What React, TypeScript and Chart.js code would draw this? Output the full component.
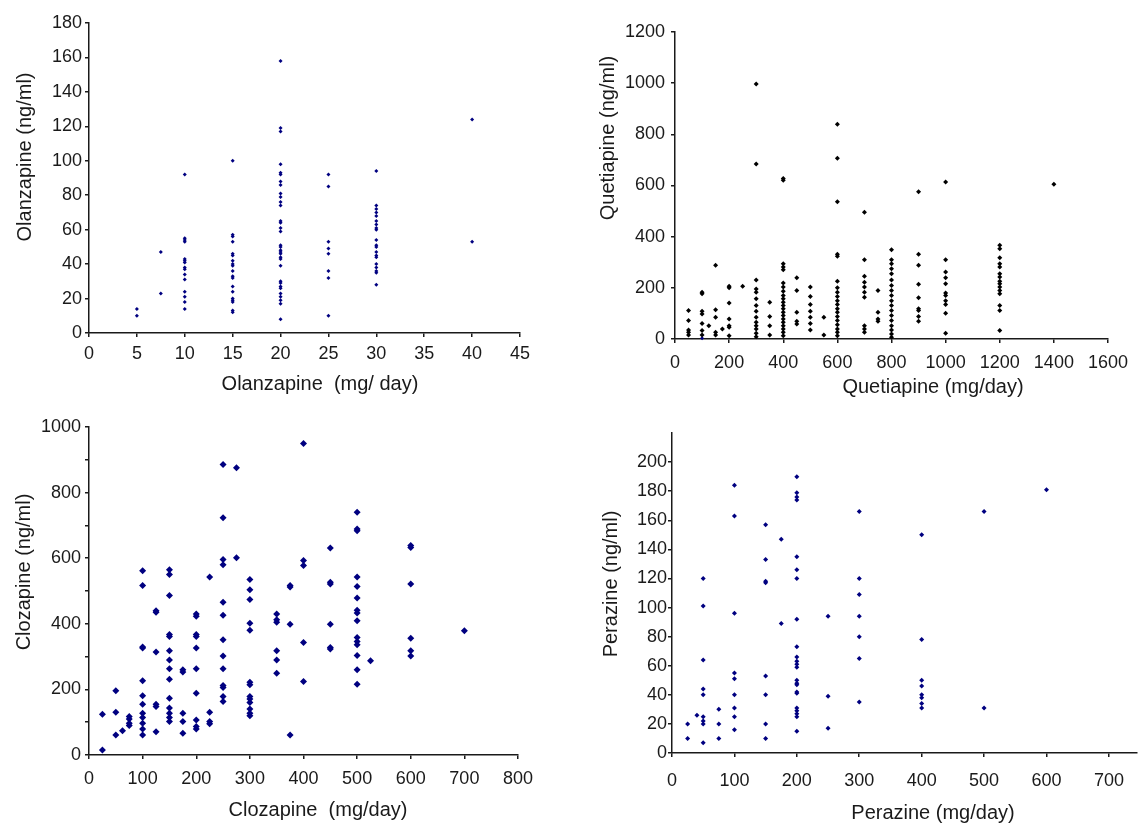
import React, { useEffect, useRef } from "react";
import { Chart, registerables } from "chart.js";

Chart.register(...registerables);

const FONT = '"Liberation Sans", Arial, Helvetica, sans-serif';
const INK = "#1a1a1a";
const NAVY = "#000080";
const BLACK = "#000000";

// ---------- Olanzapine ----------
const olanzapineDoses = [5, 7.5, 10, 15, 20, 25, 30, 40];
const olanzapineLevels = [
  [14, 10],
  [47, 23],
  [92, 55, 54, 53, 43, 42, 41, 38, 37, 34, 31, 24, 21, 18, 14],
  [100, 57, 56, 53, 46, 45, 42, 40, 39, 36, 33, 32, 27, 24, 20, 19, 18, 13, 12],
  [158, 119, 117, 98, 93, 92, 88, 86, 81, 79, 76, 74, 65, 64, 61, 59, 51, 50, 48, 47, 46, 44, 43, 39, 30, 29, 27, 26, 23, 21, 19, 17, 8],
  [92, 85, 53, 49, 46, 36, 32, 10],
  [94, 74, 72, 70, 68, 65, 63, 61, 60, 54, 51, 50, 47, 45, 44, 40, 38, 36, 35, 28],
  [124, 53],
];
const olanzapineXTicks = [0, 5, 10, 15, 20, 25, 30, 35, 40, 45];
const olanzapineYTicks = [0, 20, 40, 60, 80, 100, 120, 140, 160, 180];

// ---------- Quetiapine ----------
const quetiapineDoses = [50, 100, 125, 150, 175, 200, 250, 300, 350, 400, 450, 500, 550, 600, 700, 750, 800, 900, 1000, 1200, 1400];
const quetiapineLevels = [
  [111, 72, 35, 26, 16],
  [183, 177, 108, 98, 61, 33, 16],
  [52],
  [288, 114, 85, 26, 16],
  [39],
  [206, 200, 141, 78, 52, 46, 13],
  [206],
  [997, 684, 231, 195, 183, 157, 131, 108, 85, 65, 52, 39, 22, 9],
  [144, 88, 52, 16],
  [627, 621, 294, 281, 271, 219, 203, 187, 170, 157, 144, 131, 118, 105, 92, 78, 65, 52, 39, 26, 13],
  [239, 190, 105, 69, 59],
  [203, 166, 135, 108, 85, 61, 35],
  [85, 16],
  [839, 707, 536, 331, 323, 226, 200, 183, 166, 150, 135, 118, 105, 88, 72, 56, 39, 26, 13],
  [495, 310, 245, 222, 203, 183, 163, 52, 39, 26],
  [190, 105, 78, 69],
  [349, 310, 294, 275, 255, 231, 209, 190, 170, 150, 131, 111, 92, 72, 52, 35, 20, 7],
  [576, 331, 288, 214, 161, 118, 111, 88, 69],
  [614, 310, 262, 239, 216, 180, 170, 150, 135, 101, 22],
  [366, 353, 318, 294, 281, 255, 242, 226, 216, 203, 190, 177, 131, 111, 33],
  [605],
];
const quetiapineBlueDoses = [100];
const quetiapineBlueLevels = [[3]];
const quetiapineXTicks = [0, 200, 400, 600, 800, 1000, 1200, 1400, 1600];
const quetiapineYTicks = [0, 200, 400, 600, 800, 1000, 1200];

// ---------- Clozapine ----------
const clozapineDoses = [25, 50, 62.5, 75, 100, 125, 150, 175, 200, 225, 250, 275, 300, 350, 375, 400, 450, 500, 525, 600, 700];
const clozapineLevels = [
  [124, 15],
  [196, 130, 61],
  [74],
  [117, 110, 97, 90],
  [562, 517, 329, 326, 226, 181, 155, 127, 114, 97, 79, 61],
  [440, 435, 314, 155, 148, 71],
  [565, 550, 486, 367, 361, 318, 290, 263, 231, 173, 143, 127, 114, 102],
  [260, 253, 127, 102, 66],
  [430, 423, 367, 361, 326, 263, 188, 107, 87, 79],
  [543, 130, 102, 95],
  [886, 723, 596, 580, 466, 426, 351, 302, 263, 212, 206, 178, 163],
  [876, 601],
  [535, 504, 474, 402, 380, 222, 214, 178, 171, 160, 140, 127, 120],
  [430, 412, 405, 318, 290, 249],
  [517, 512, 399, 61],
  [950, 593, 578, 343, 224],
  [631, 527, 521, 399, 328, 323],
  [740, 689, 684, 543, 514, 479, 441, 433, 409, 358, 346, 336, 303, 260, 216],
  [287],
  [639, 633, 521, 356, 318, 302],
  [379],
];
const clozapineXTicks = [0, 100, 200, 300, 400, 500, 600, 700, 800];
const clozapineYTicks = [0, 100, 200, 300, 400, 500, 600, 700, 800, 900, 1000];
const clozapineYLabels = [0, 200, 400, 600, 800, 1000];

// ---------- Perazine ----------
const perazineDoses = [25, 40, 50, 75, 100, 150, 175, 200, 250, 300, 400, 500, 600];
const perazineLevels = [
  [20, 10],
  [26],
  [120, 101, 64, 44, 40, 25, 22, 20, 7],
  [30, 20, 10],
  [184, 163, 96, 55, 51, 40, 31, 25, 16],
  [157, 133, 118, 117, 53, 40, 20, 10],
  [147, 89],
  [190, 179, 176, 174, 135, 126, 120, 92, 73, 66, 63, 61, 59, 50, 48, 47, 42, 41, 31, 29, 27, 25, 15],
  [94, 39, 17],
  [166, 120, 109, 94, 80, 65, 35],
  [150, 78, 50, 46, 40, 38, 34, 31],
  [166, 31],
  [181],
];
const perazineXTicks = [0, 100, 200, 300, 400, 500, 600, 700];
const perazineYTicks = [0, 20, 40, 60, 80, 100, 120, 140, 160, 180, 200];

function toPoints(doses: number[], levels: number[][]) {
  return doses.flatMap((d, i) => levels[i].map((v) => ({ x: d, y: v })));
}

const titlePlugin = {
  id: "panelTitles",
  afterDraw(chart: any, _args: any, opts: any) {
    const ctx = chart.ctx;
    const items = (opts && opts.items) || [];
    for (let i = 0; i < items.length; i++) {
      const t = items[i];
      ctx.save();
      ctx.translate(t.x, t.y);
      if (t.rotate) ctx.rotate(-Math.PI / 2);
      ctx.font = `${t.size}px ${FONT}`;
      ctx.fillStyle = INK;
      ctx.textAlign = "center";
      ctx.textBaseline = "middle";
      ctx.fillText(t.text, 0, 0);
      ctx.restore();
    }
  },
};

type AxisOpts = {
  min: number;
  max: number;
  ticks: number[];
  size: number;
  font: number;
  pad: number;
  labels?: number[];
};

function makeAxis(o: AxisOpts) {
  return {
    type: "linear",
    min: o.min,
    max: o.max,
    afterBuildTicks: (s: any) => {
      s.ticks = o.ticks.map((v) => ({ value: v }));
    },
    afterFit: (s: any) => {
      if (s.isHorizontal()) s.height = o.size;
      else s.width = o.size;
    },
    border: { display: true, color: INK, width: 1.5 },
    grid: {
      display: true,
      drawOnChartArea: false,
      drawTicks: true,
      tickLength: 4,
      color: INK,
      lineWidth: 1.5,
    },
    ticks: {
      color: INK,
      autoSkip: false,
      maxRotation: 0,
      padding: o.pad,
      font: { family: FONT, size: o.font },
      callback: (v: any) => (o.labels ? (o.labels.includes(Number(v)) ? String(v) : "") : String(v)),
    },
    title: { display: false },
  };
}

type PanelProps = {
  left: number;
  top: number;
  width: number;
  height: number;
  padding: { left: number; top: number; right: number; bottom: number };
  x: AxisOpts;
  y: AxisOpts;
  sets: { points: { x: number; y: number }[]; color: string; radius: number }[];
  titles: { text: string; x: number; y: number; rotate?: boolean; size: number }[];
};

function ScatterPanel(p: PanelProps) {
  const ref = useRef<HTMLCanvasElement | null>(null);
  useEffect(() => {
    if (!ref.current) return;
    const chart = new Chart(ref.current, {
      type: "scatter",
      data: {
        datasets: p.sets.map((s) => ({
          data: s.points,
          pointStyle: "rectRot",
          pointRadius: s.radius,
          pointBackgroundColor: s.color,
          pointBorderColor: s.color,
          pointBorderWidth: 0,
          clip: false,
        })),
      },
      options: {
        responsive: false,
        maintainAspectRatio: false,
        animation: false,
        devicePixelRatio: 1,
        layout: { padding: p.padding },
        plugins: {
          legend: { display: false },
          tooltip: { enabled: false },
          panelTitles: { items: p.titles },
        } as any,
        scales: { x: makeAxis(p.x) as any, y: makeAxis(p.y) as any },
      },
      plugins: [titlePlugin as any],
    });
    return () => chart.destroy();
  }, []);
  return (
    <canvas
      ref={ref}
      width={p.width}
      height={p.height}
      style={{ position: "absolute", left: p.left, top: p.top, width: p.width, height: p.height }}
    />
  );
}

export default function App() {
  return (
    <div style={{ position: "absolute", left: 0, top: 0, width: 1141, height: 824, background: "#fff" }}>
      <ScatterPanel
        left={0}
        top={0}
        width={560}
        height={410}
        padding={{ left: 0, top: 23, right: 40, bottom: 0 }}
        x={{ min: 0, max: 45, ticks: olanzapineXTicks, size: 77, font: 18, pad: 6 }}
        y={{ min: 0, max: 180, ticks: olanzapineYTicks, size: 89, font: 18, pad: 3 }}
        sets={[{ points: toPoints(olanzapineDoses, olanzapineLevels), color: NAVY, radius: 2 }]}
        titles={[
          { text: "Olanzapine (ng/ml)", x: 25, y: 157, rotate: true, size: 20 },
          { text: "Olanzapine  (mg/ day)", x: 320, y: 384, size: 20 },
        ]}
      />
      <ScatterPanel
        left={560}
        top={0}
        width={581}
        height={410}
        padding={{ left: 0, top: 32, right: 33, bottom: 0 }}
        x={{ min: 0, max: 1600, ticks: quetiapineXTicks, size: 71, font: 18, pad: 9 }}
        y={{ min: 0, max: 1200, ticks: quetiapineYTicks, size: 115, font: 18, pad: 6 }}
        sets={[
          { points: toPoints(quetiapineDoses, quetiapineLevels), color: BLACK, radius: 2.5 },
          { points: toPoints(quetiapineBlueDoses, quetiapineBlueLevels), color: NAVY, radius: 2 },
        ]}
        titles={[
          { text: "Quetiapine (ng/ml)", x: 48, y: 138, rotate: true, size: 20 },
          { text: "Quetiapine (mg/day)", x: 373, y: 387, size: 20 },
        ]}
      />
      <ScatterPanel
        left={0}
        top={410}
        width={560}
        height={414}
        padding={{ left: 0, top: 17, right: 42, bottom: 0 }}
        x={{ min: 0, max: 800, ticks: clozapineXTicks, size: 69, font: 18, pad: 9 }}
        y={{ min: 0, max: 1000, ticks: clozapineYTicks, size: 89, font: 18, pad: 4, labels: clozapineYLabels }}
        sets={[{ points: toPoints(clozapineDoses, clozapineLevels), color: NAVY, radius: 3.5 }]}
        titles={[
          { text: "Clozapine (ng/ml)", x: 24, y: 162, rotate: true, size: 20 },
          { text: "Clozapine  (mg/day)", x: 318, y: 400, size: 20 },
        ]}
      />
      <ScatterPanel
        left={560}
        top={410}
        width={581}
        height={414}
        padding={{ left: 0, top: 23, right: 0, bottom: 0 }}
        x={{ min: 0, max: 745, ticks: perazineXTicks, size: 71, font: 18, pad: 13 }}
        y={{ min: 0, max: 220, ticks: perazineYTicks, size: 112, font: 18, pad: 1 }}
        sets={[{ points: toPoints(perazineDoses, perazineLevels), color: NAVY, radius: 2.5 }]}
        titles={[
          { text: "Perazine (ng/ml)", x: 51, y: 174, rotate: true, size: 20 },
          { text: "Perazine (mg/day)", x: 373, y: 403, size: 20 },
        ]}
      />
    </div>
  );
}
